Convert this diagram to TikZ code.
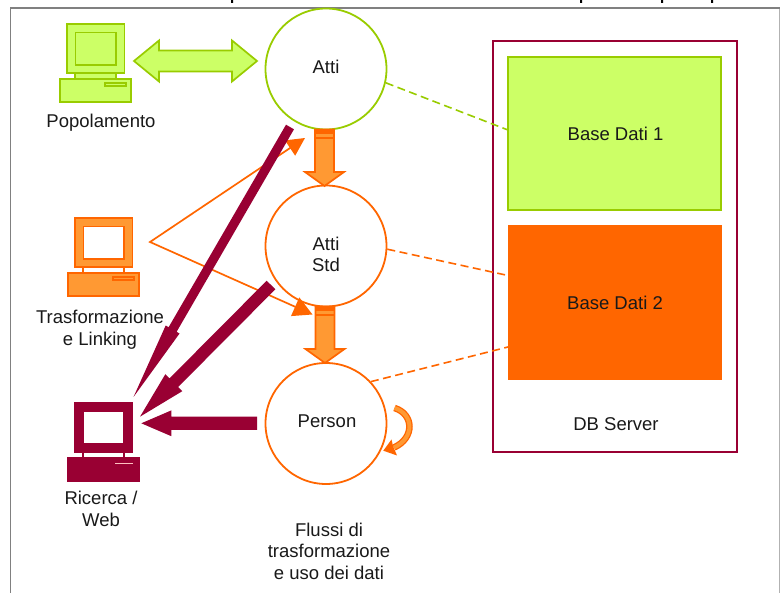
\documentclass[tikz,border=0pt]{standalone}
\usepackage{fontspec}
\setmainfont{Liberation Sans}
\usetikzlibrary{calc,arrows.meta}
\definecolor{lime}{HTML}{CCFF66}
\definecolor{olive2}{HTML}{99CC00}
\definecolor{orng}{HTML}{FF6600}
\definecolor{lorng}{HTML}{FF9933}
\definecolor{maroon2}{HTML}{990033}
\tikzset{
  txt/.style={font=\fontsize{18.5}{21.6}\selectfont,align=center,inner sep=0pt,text=black!90},
  disc/.style={circle,draw,line width=1.8pt,fill=white,minimum size=121pt,inner sep=0pt},
  link/.style={line width=1.6pt,dash pattern=on 8pt off 4.5pt},
  greenblk/.style={fill=lime,draw=olive2,line width=1.7pt,line join=miter},
  orangeblk/.style={fill=lorng,draw=orng,line width=1.7pt,line join=miter},
  maroonblk/.style={fill=maroon2,draw=none},
  pics/computer/.style n args={4}{code={
    \draw[#2,line width=1.8pt,fill=#4] (8,49) rectangle (49,55);
    \draw[#2,line width=1.8pt,fill=#1] (0,0) rectangle (57.5,49);
    \draw[#2,line width=1.8pt,fill=#3] (8.5,8.5) rectangle (49,41);
    \draw[#2,line width=1.8pt,fill=#1] (-7,55) rectangle (64,78);
    \draw[#2,line width=1.2pt,fill=#1] (38,59) rectangle (59,62);
  }}
}
\newcommand{\blockarrow}[6]{%
  \coordinate (hh) at ($(#2)!#5!(#1)$);
  \path[#6] ($(#1)!#3!90:(#2)$) -- ($(hh)!#3!90:(#2)$) -- ($(hh)!#4!90:(#2)$) -- (#2)
    -- ($(hh)!#4!-90:(#2)$) -- ($(hh)!#3!-90:(#2)$) -- ($(#1)!#3!-90:(#2)$) -- cycle;
}
\begin{document}
\begin{tikzpicture}[x=1pt,y=-1pt]
\useasboundingbox (0,0) rectangle (780,593);
\fill[white] (0,0) rectangle (780,593);
% cut-off heading descenders and frame
\fill[black] (231,0) rectangle (233,3) (580,0) rectangle (582,3) (661,0) rectangle (663,3) (711,0) rectangle (713,3);
\draw[gray!60,line width=1pt] (779,8) -- (779,593);
\draw[gray,line width=1.9pt] (10.5,593) -- (10.5,8) -- (780,8);

% DB server
\node[draw=maroon2,line width=1.9pt,minimum width=244pt,minimum height=411pt,inner sep=0pt] (server) at (615,246.5) {};
\node[fill=lime,draw=olive2,line width=1.8pt,minimum width=212.5pt,minimum height=153pt,inner sep=0pt] (dbA) at (614.5,133.5) {};
\node[fill=orng,minimum width=214pt,minimum height=155pt,inner sep=0pt] (dbB) at (615,302.5) {};
\node[txt] (dbAl) at (615.5,133.5) {Base Dati 1};
\node[txt] (dbBl) at (615,303) {Base Dati 2};
\node[txt] (serverl) at (616,424.5) {DB Server};

% circles
\node[disc,draw=olive2] (atti) at (326,69) {};
\node[disc,draw=orng] (std) at (326,246) {};
\node[disc,draw=orng] (person) at (326,423.5) {};
\node[txt] (attil) at (326,67) {Atti};
\node[txt] (stdl) at (326,254.5) {Atti\\Std};
\node[txt] (personl) at (327,421) {Person};

% dashed links
\coordinate (dbAin) at (508,130);
\coordinate (dbBin1) at (508,275.5);
\coordinate (dbBin2) at (508,347);
\draw[link,draw=olive2] (atti.-13) -- (dbAin);
\draw[link,draw=orng] (std.-3) -- (dbBin1);
\draw[link,draw=orng] (person.43) -- (dbBin2);

% computers
\pic at (67,24) {computer={lime}{olive2}{lime}{lime}};
\pic at (75,218) {computer={lorng}{orng}{white}{white}};
\pic at (75,403) {computer={maroon2}{maroon2}{white}{white}};
\draw[pink,line width=0.8pt] (115,463) -- (133,463);
\node[txt] (popl) at (101,123) {Popolamento};
\node[txt] (trl) at (100,330) {Trasformazione\\e Linking};
\node[txt] (ricl) at (101,509) {Ricerca /\\Web};
\node[txt] (flussi) at (329,551) {Flussi di\\trasformazione\\e uso dei dati};

% green double arrow
\coordinate (popR) at (134,61);
\coordinate (attiL) at (257,61);
\coordinate (hl) at ($(popR)!25pt!(attiL)$);
\coordinate (hr) at ($(attiL)!25pt!(popR)$);
\path[greenblk] (popR) -- ($(hl)!20.5pt!90:(attiL)$) -- ($(hl)!10.5pt!90:(attiL)$) -- ($(hr)!10.5pt!-90:(popR)$) -- ($(hr)!20.5pt!-90:(popR)$) -- (attiL)
  -- ($(hr)!20.5pt!90:(popR)$) -- ($(hr)!10.5pt!90:(popR)$) -- ($(hl)!10.5pt!-90:(attiL)$) -- ($(hl)!20.5pt!-90:(attiL)$) -- cycle;

% thin orange fork
\coordinate (fork) at (150,242);
\coordinate (forkA) at (305,138);
\coordinate (forkB) at (312.5,314.5);
\draw[orng,line width=1.7pt,{Triangle[length=18pt,width=18pt]}-{Triangle[length=19pt,width=20pt]}] (forkA) -- (fork) -- (forkB);

% orange block arrows between circles
\coordinate (a1) at (324.5,129.5);
\coordinate (a2) at (324.5,186);
\coordinate (b1) at (325,306.5);
\coordinate (b2) at (325,363);
\blockarrow{a1}{a2}{9.5pt}{19.5pt}{14pt}{orangeblk}
\blockarrow{b1}{b2}{9.5pt}{19.5pt}{14pt}{orangeblk}
\fill[orng] (315,129.5) rectangle (334,134);
\draw[orng,line width=1.4pt] (315,138) -- (334,138);
\fill[orng] (315.5,306.5) rectangle (334.5,311);
\draw[orng,line width=1.4pt] (315.5,315) -- (334.5,315);

% maroon arrows
\coordinate (m1s) at (290,127);
\coordinate (m1t) at (133.5,397);
\coordinate (m2s) at (271,285);
\coordinate (m2t) at (140,416.7);
\coordinate (m3s) at (257,423.3);
\coordinate (m3t) at (141.3,423.3);
\blockarrow{m1s}{m1t}{4.6pt}{8pt}{78pt}{maroonblk}
\blockarrow{m2s}{m2t}{6.1pt}{12pt}{48pt}{maroonblk}
\blockarrow{m3s}{m3t}{6.7pt}{12.9pt}{30pt}{maroonblk}

% self loop
\coordinate (loopS) at (394.5,408);
\coordinate (loopE) at (394,447.5);
\coordinate (loopT) at (383.3,450.7);
\draw[draw=orng,double=lorng,double distance=4pt,line width=1.3pt] (loopS) .. controls (414,414) and (415,438) .. (loopE);
\fill[orng] (loopT) -- (391.5,439.5) -- (393,446) -- (397,455.5) -- cycle;
\end{tikzpicture}
\end{document}
